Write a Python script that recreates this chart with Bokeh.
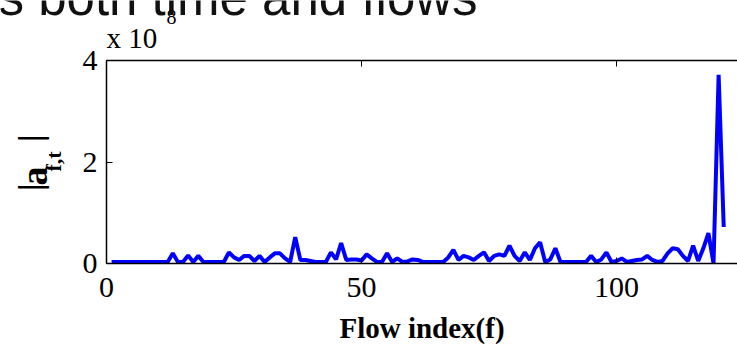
from bokeh.plotting import figure
from bokeh.models import Label, LinearAxis, Range1d, FixedTicker
from bokeh.layouts import column, row
from bokeh.embed import file_html
from bokeh.resources import INLINE

# Flow index (f) and |a_{f,t}| in units of 1e8
flow_index = list(range(1, 122))
magnitude_e8 = [
    0.03, 0.03, 0.03, 0.03, 0.03, 0.03, 0.03, 0.03, 0.03, 0.03,   # 1-10
    0.03, 0.03, 0.20, 0.03, 0.03, 0.16, 0.03, 0.15, 0.03, 0.03,   # 11-20
    0.03, 0.03, 0.03, 0.22, 0.12, 0.07, 0.15, 0.15, 0.05, 0.15,   # 21-30
    0.03, 0.12, 0.20, 0.20, 0.10, 0.03, 0.52, 0.07, 0.07, 0.05,   # 31-40
    0.03, 0.03, 0.03, 0.22, 0.08, 0.40, 0.07, 0.08, 0.08, 0.06,   # 41-50
    0.18, 0.10, 0.03, 0.03, 0.20, 0.03, 0.10, 0.03, 0.04, 0.08,   # 51-60
    0.07, 0.03, 0.03, 0.03, 0.03, 0.03, 0.12, 0.27, 0.07, 0.15,   # 61-70
    0.12, 0.07, 0.15, 0.22, 0.05, 0.15, 0.18, 0.15, 0.35, 0.15,   # 71-80
    0.05, 0.22, 0.07, 0.30, 0.42, 0.03, 0.08, 0.30, 0.03, 0.03,   # 81-90
    0.03, 0.03, 0.03, 0.03, 0.15, 0.03, 0.08, 0.22, 0.03, 0.05,   # 91-100
    0.10, 0.03, 0.05, 0.07, 0.08, 0.15, 0.07, 0.03, 0.05, 0.20,   # 101-110
    0.30, 0.28, 0.15, 0.05, 0.35, 0.05, 0.30, 0.60, 0.00, 3.72,   # 111-120
    0.72,                                                          # 121
]
x_ticks = [0, 50, 100]
y_ticks = [0, 2, 4]

W, H = 737, 346
HEAD_H = 49          # header strip (exponent marker + cropped slide title)
LEFT_W = 70          # strip holding the rotated y label
FL, FT, FB = 106, 60, 263   # plot frame left / top / bottom (canvas px)
LEFT_REF = FB        # screen-y origin of the left strip (aligned with plot frame bottom)
K = 0.33             # measured baseline drop of rendered labels, in em
serif = "Liberation Serif"


def blank(width, height):
    f = figure(width=width, height=height, output_backend="svg", toolbar_location=None,
               x_axis_type=None, y_axis_type=None, title_location=None,
               x_range=Range1d(0, 1), y_range=Range1d(0, 1),
               min_border=0, min_border_left=0, min_border_right=0,
               min_border_top=0, min_border_bottom=0)
    f.outline_line_color = None
    f.grid.visible = False
    return f


def add_text(f, x, y, text, size, bold=False, angle=0, font=serif, color="black"):
    f.add_layout(Label(x=x, y=y, x_units="screen", y_units="screen", text=text,
                       angle=angle, angle_units="deg", text_font=font,
                       text_font_style="bold" if bold else "normal",
                       text_font_size=f"{size}px", text_align="left",
                       text_baseline="alphabetic", text_color=color))


# ---- header strip: baseline (px, py) in canvas pixels ----
head = blank(W, HEAD_H)
def head_text(px, py, text, size, **kw):
    add_text(head, px, HEAD_H - py + K * size, text, size, **kw)
head_text(-2, 14, "s both time and flows", 51, font="Liberation Sans", color="#111111")
head_text(106, 47, "x 10", 29)
head_text(166, 23, "8", 20)

# ---- left strip: |a_{f,t}| (rotated; baseline x, start y in canvas pixels) ----
BODY_H = H - HEAD_H
left = blank(LEFT_W, BODY_H)
def left_text(bx, py, text, size):
    add_text(left, bx - K * size, LEFT_REF - py, text, size, bold=True, angle=90)
left_text(41, 190.5, "|", 34)
left_text(46, 185, "a", 38)
left_text(60, 171, "f,t", 22)
left_text(41, 141.5, "|", 34)

# ---- main plot ----
p = figure(width=W - LEFT_W, height=BODY_H, output_backend="svg", toolbar_location=None,
           x_range=Range1d(0, 123.7), y_range=Range1d(0, 4),
           min_border_left=FL - LEFT_W, min_border_right=0,
           min_border_top=FT - HEAD_H, min_border_bottom=H - FB)
p.grid.visible = False
p.outline_line_color = None

p.line(flow_index, magnitude_e8, line_color="#0000ff", line_width=4)

for ax in list(p.xaxis) + list(p.yaxis):
    ax.major_tick_in = 6
    ax.major_tick_out = 0
    ax.minor_tick_in = 0
    ax.minor_tick_out = 0
    ax.axis_line_color = "#000000"
    ax.axis_line_width = 1.5
    ax.major_tick_line_color = "#000000"
    ax.major_tick_line_width = 1
    ax.major_label_text_font = serif
    ax.major_label_text_font_size = "30px"
    ax.major_label_text_color = "black"

p.xaxis.ticker = FixedTicker(ticks=x_ticks)
p.yaxis.ticker = FixedTicker(ticks=y_ticks)
p.xaxis.major_label_standoff = 14
p.yaxis.major_label_standoff = 9
p.xaxis.axis_label = "Flow index(f)"
p.xaxis.axis_label_text_font = serif
p.xaxis.axis_label_text_font_style = "bold"
p.xaxis.axis_label_text_font_size = "29px"
p.xaxis.axis_label_text_color = "black"
p.xaxis.axis_label_standoff = 12

top = LinearAxis(ticker=FixedTicker(ticks=x_ticks), major_tick_in=6, major_tick_out=0,
                 minor_tick_in=0, minor_tick_out=0, major_label_text_alpha=0,
                 major_label_text_font_size="6px", major_label_standoff=0,
                 axis_line_width=1.5, axis_line_color="#000000",
                 major_tick_line_color="#000000")
p.add_layout(top, "above")

layout = column(head, row(left, p))
open("out.html", "w").write(file_html(layout, INLINE))
